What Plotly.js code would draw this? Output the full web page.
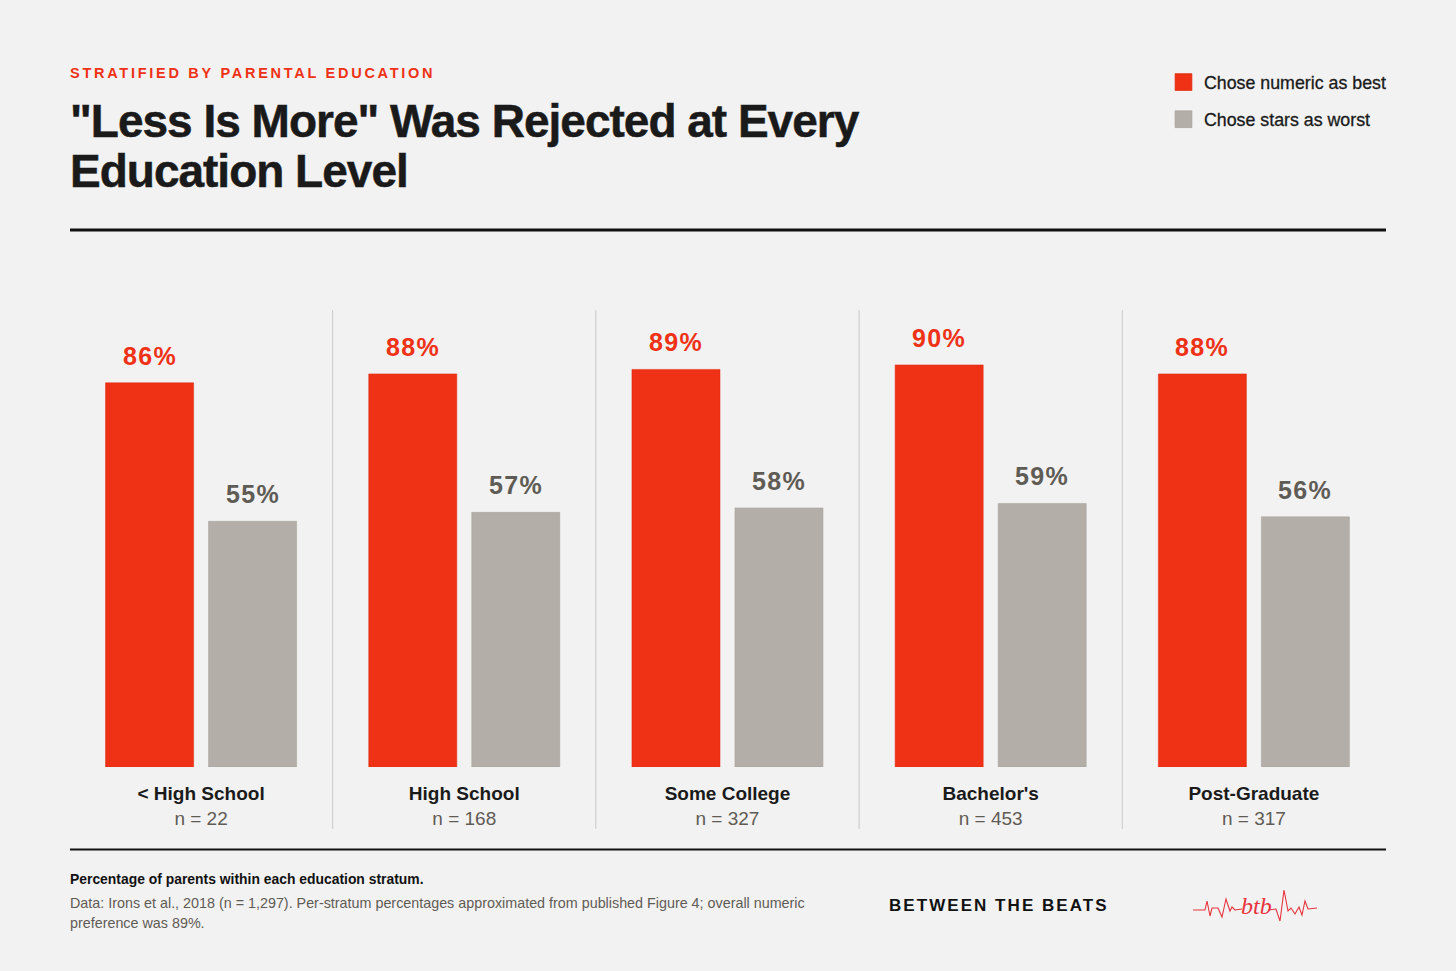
<!DOCTYPE html>
<html>
<head>
<meta charset="utf-8">
<script src="https://cdn.plot.ly/plotly-3.0.1.min.js"></script>
<style>
html,body{margin:0;padding:0;background:#f2f2f2;}
#chart{width:1456px;height:971px;}
.gtitle{letter-spacing:-1px;stroke:#1a1a1a;stroke-width:0.5px;}
.legendtext{stroke:#1a1a1a;stroke-width:0.3px;}
.xtick text{stroke-width:0;}
.legendpoints path{transform:translate(19.5px,0) scale(1.4);}
</style>
</head>
<body>
<div id="chart"></div>
<script>
const categories = ["&lt; High School", "High School", "Some College", "Bachelor's", "Post-Graduate"];
const sampleSizes = [22, 168, 327, 453, 317];
const numericBest = [86, 88, 89, 90, 88];
const starsWorst = [55, 57, 58, 59, 56];
const seriesNames = ["Chose numeric as best", "Chose stars as worst"];
const titleText = '"Less Is More" Was Rejected at Every<br>Education Level';
const eyebrow = "STRATIFIED BY PARENTAL EDUCATION";
const brand = "BETWEEN THE BEATS";
const footBold = "Percentage of parents within each education stratum.";
const footLines = ["Data: Irons et al., 2018 (n = 1,297). Per-stratum percentages approximated from published Figure 4; overall numeric", "preference was 89%."];

const RED = "#ef3115", GREY = "#b3aea8", INK = "#1a1a1a", MUTED = "#5f5b55", BG = "#f2f2f2";
const SANS = '"Liberation Sans", Arial, sans-serif';
const W = 1456, H = 971, L = 70, R = 1386, T = 310, B = 767;
const px = x => (x - L) / (R - L);
const py = y => (B - y) / (B - T);

function label(text, x, y, size, color, extra) {
  return Object.assign({
    text, xref: "paper", yref: "paper", x: px(x - 2), y: py(y),
    xanchor: "left", yanchor: "middle", showarrow: false, align: "left",
    font: {family: SANS, size, color}
  }, extra || {});
}
function valueLabels(vals, color, shift) {
  return vals.map((v, i) => ({
    text: v + "%", x: i, y: v, xref: "x", yref: "y", xshift: shift, yshift: 27,
    xanchor: "center", yanchor: "middle", showarrow: false,
    font: {family: SANS, size: 25, color, weight: 700}
  }));
}

const annotations = [
  label(eyebrow, 70, 72.5, 14.5, RED, {font: {family: SANS, size: 14.5, color: RED, weight: 700}}),
  label(brand, 889, 905, 17, INK, {font: {family: SANS, size: 17, color: "#111111", weight: 700}}),
  label(footBold, 70, 878.5, 13.9, INK, {font: {family: SANS, size: 13.9, color: "#111111", weight: 700}}),
  label(footLines[0], 70, 902.5, 14.34, MUTED),
  label(footLines[1], 70, 922.5, 14.34, MUTED),
  label("btb", 1241, 906, 24, RED, {font: {family: '"Liberation Serif", serif', size: 24, color: "#e8323c", style: "italic"}}),
  ...valueLabels(numericBest, RED, -51.5),
  ...valueLabels(starsWorst, MUTED, 51.5)
];

const sheet = document.createElement("style");
sheet.textContent = annotations.map((a, i) => {
  const sp = i === 0 ? 2.73 : i === 1 ? 2.05 : i >= 6 ? 1.3 : 0;
  return sp ? `.annotation[data-index="${i}"] text{letter-spacing:${sp}px;}` : "";
}).join("\n");
document.head.appendChild(sheet);

const rule = (y, w) => ({type: "line", xref: "paper", yref: "paper", x0: 0, x1: 1, y0: py(y), y1: py(y), line: {color: "#111111", width: w}});
const separators = [0.5, 1.5, 2.5, 3.5].map(x => ({
  type: "line", xref: "x", yref: "paper", x0: x, x1: x, y0: py(829), y1: 1, line: {color: "#c9c9c7", width: 1}
}));
const ecg = [[1193,910],[1205,910],[1207,901],[1210,916],[1212,908],[1218,908],[1222,917],[1226,899],[1230,911],[1232,907],[1235,910],[1242,909]];
const ecg2 = [[1268,910],[1276,909],[1280,921],[1284,890],[1288,911],[1291,908],[1295,914],[1299,907],[1302,915],[1305,901],[1308,909],[1317,908]];
const toPath = pts => "M" + pts.map(p => px(p[0]) + "," + py(p[1])).join("L");
const logo = [ecg, ecg2].map(pts => ({
  type: "path", xref: "paper", yref: "paper", path: toPath(pts), line: {color: "#e8323c", width: 1.1}
}));

const traces = [
  {type: "bar", name: seriesNames[0], legendgroup: "a", x: categories.map((c, i) => i), y: numericBest,
   marker: {color: RED, line: {color: "#e0280f", width: 0.5}}, hoverinfo: "y+name"},
  {type: "bar", name: seriesNames[1], legendgroup: "b", x: categories.map((c, i) => i), y: starsWorst,
   marker: {color: GREY, line: {color: "#a5a09a", width: 0.5}}, hoverinfo: "y+name"}
];

const layout = {
  width: W, height: H,
  paper_bgcolor: BG, plot_bgcolor: BG,
  margin: {l: L, r: W - R, t: T, b: H - B, pad: 0},
  barmode: "group", bargap: 0.2173, bargroupgap: 0.145,
  title: {text: titleText, x: L / W, xanchor: "left", xref: "container", y: 1 - 137 / H, yanchor: "top", yref: "container",
          font: {family: SANS, size: 46, color: INK, weight: 700}},
  xaxis: {type: "linear", range: [-0.498, 4.502], tickvals: categories.map((c, i) => i),
          ticktext: categories.map((c, i) => "<b>" + c + "</b><br><span style='font-size:19px;color:" + MUTED + "'>n = " + sampleSizes[i] + "</span>"),
          ticks: "", showgrid: false, zeroline: false, showline: false, ticklabelstandoff: 13,
          tickfont: {family: SANS, size: 19, color: INK}},
  yaxis: {range: [0, 102.3], visible: false, showgrid: false, zeroline: false},
  showlegend: true,
  legend: {x: px(1164), xanchor: "left", y: py(64), yanchor: "top", xref: "paper", yref: "paper",
           bgcolor: "rgba(0,0,0,0)", borderwidth: 0, traceorder: "grouped", tracegroupgap: 11,
           itemclick: false, itemdoubleclick: false, font: {family: SANS, size: 17.8, color: INK}},
  shapes: [rule(230, 3), rule(849.5, 2), ...separators, ...logo],
  annotations
};

Plotly.newPlot("chart", traces, layout, {displayModeBar: false, responsive: false}).then(() => {
  const lines = document.querySelectorAll(".gtitle tspan.line");
  if (lines[1]) lines[1].setAttribute("dy", "50px");
});
</script>
</body>
</html>
